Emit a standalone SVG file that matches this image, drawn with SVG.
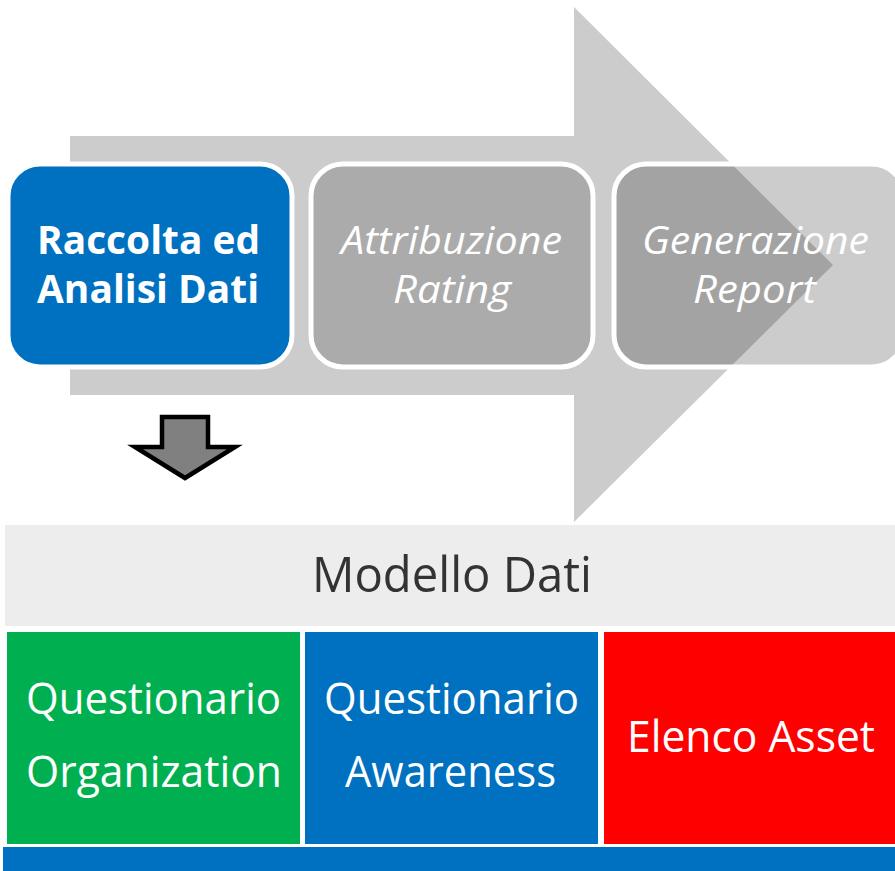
<svg xmlns="http://www.w3.org/2000/svg" width="895" height="871" viewBox="0 0 895 871">
  <style>
    .step { stroke: #ffffff; stroke-width: 5; }
    .lbl { font-family: "Open Sans", "Liberation Sans", sans-serif; fill: #ffffff; text-anchor: start; }
    .bold { font-weight: 700; font-size: 39px; }
    .ital { font-style: italic; font-size: 39px; }
    .big { font-size: 44px; }
    .dark { fill: #333333; font-size: 49px; }
  </style>

  <rect width="895" height="871" fill="#ffffff"/>

  <!-- process flow arrow behind the steps -->
  <g id="flow-arrow">
    <path d="M70 136 H574 V7 L833 265 L574 522 V395 H70 Z" fill="#cccccc"/>
  </g>

  <g id="step-raccolta">
    <rect class="step" x="8" y="164" width="284" height="203" rx="32" fill="#0070c0"/>
    <text class="lbl bold" x="37" y="254" textLength="223" lengthAdjust="spacingAndGlyphs">Raccolta ed</text>
    <text class="lbl bold" x="37" y="303" textLength="222" lengthAdjust="spacingAndGlyphs">Analisi Dati</text>
  </g>

  <g id="step-rating">
    <rect class="step" x="311" y="164" width="282" height="203" rx="32" fill="#ababab"/>
    <text class="lbl ital" x="341" y="254" textLength="221" lengthAdjust="spacingAndGlyphs">Attribuzione</text>
    <text class="lbl ital" x="393" y="303" textLength="118" lengthAdjust="spacingAndGlyphs">Rating</text>
  </g>

  <g id="step-report">
    <rect class="step" x="614" y="164" width="290" height="203" rx="32" fill="#000000" fill-opacity="0.2"/>
    <text class="lbl ital" x="642" y="254" textLength="227" lengthAdjust="spacingAndGlyphs">Generazione</text>
    <text class="lbl ital" x="693" y="303" textLength="123" lengthAdjust="spacingAndGlyphs">Report</text>
  </g>

  <!-- down arrow pointing to the data model -->
  <g id="connectors">
    <path d="M162 417 H208 V447 H235 L185 478 L135 447 H162 Z" fill="#808080" stroke="#000000" stroke-width="4.5" stroke-linejoin="miter"/>
  </g>

  <g id="modello-dati">
    <rect x="5" y="525" width="890" height="101" fill="#ededed"/>
    <text class="lbl dark" x="312" y="592" textLength="280" lengthAdjust="spacingAndGlyphs">Modello Dati</text>
  </g>

  <g id="q-organization">
    <rect x="7" y="632" width="293" height="212" fill="#00b050"/>
    <text class="lbl big" x="26" y="714" textLength="255" lengthAdjust="spacingAndGlyphs">Questionario</text>
    <text class="lbl big" x="26" y="787" textLength="256" lengthAdjust="spacingAndGlyphs">Organization</text>
  </g>

  <g id="q-awareness">
    <rect x="305" y="632" width="293" height="212" fill="#0070c0"/>
    <text class="lbl big" x="324" y="714" textLength="255" lengthAdjust="spacingAndGlyphs">Questionario</text>
    <text class="lbl big" x="345" y="787" textLength="211" lengthAdjust="spacingAndGlyphs">Awareness</text>
  </g>

  <g id="elenco-asset">
    <rect x="604" y="632" width="291" height="212" fill="#ff0000"/>
    <text class="lbl big" x="627" y="752" textLength="248" lengthAdjust="spacingAndGlyphs">Elenco Asset</text>
  </g>

  <g id="base-bar">
    <rect x="3" y="847" width="892" height="24" fill="#0070c0"/>
  </g>
</svg>
